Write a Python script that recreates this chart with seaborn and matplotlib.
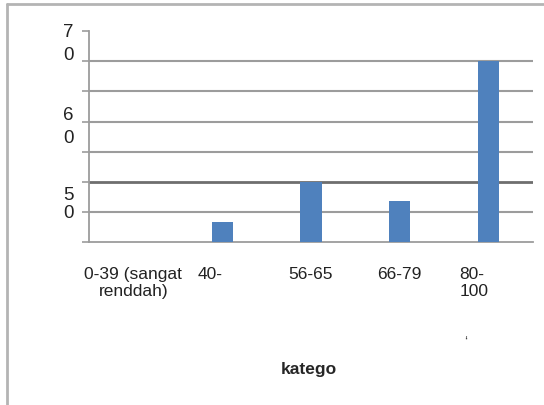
import matplotlib
matplotlib.use('Agg')
import matplotlib.pyplot as plt
import matplotlib.transforms as mtransforms
from matplotlib.lines import Line2D
import seaborn as sns
import pandas as pd

# data
kategori = ['0-39 (sangat\nrenddah)', '40-', '56-65', '66-79', '80-\n100']
nilai = [0, 6.6, 20, 13.6, 60]
y_ticks = [0, 10, 20, 30, 40, 50, 60, 70]
# broken y labels as they appear in the picture
y_label_text = ['7', '0', '6', '0', '5', '0']
y_label_pos = [69.9, 62.2, 42.5, 34.6, 15.7, 9.8]

sns.set_style('white')
plt.rcParams['font.family'] = ['Liberation Sans', 'DejaVu Sans']

df = pd.DataFrame({'kategori': kategori, 'nilai': nilai})

fig = plt.figure(figsize=(5.44, 4.06), dpi=100)
ax = fig.add_axes([89/544, 1 - 243.3/406, 444/544, 211.3/406])

sns.barplot(data=df, x='kategori', y='nilai', color='#4f81bd', width=0.24,
            saturation=1, linewidth=0, ax=ax, zorder=3)

ax.set_xlim(-0.5, 4.5)
ax.set_ylim(0, 70)
ax.set_yticks(y_ticks)
ax.set_yticklabels([])
ax.set_xlabel('')
ax.set_ylabel('')

# gridlines (no line at the top, darker line at 20)
for v in y_ticks[1:-1]:
    ax.axhline(v, color='#6e6e6e' if v == 20 else '#9c9c9c',
               lw=2.0 if v == 20 else 1.5, zorder=1)

for s in ['top', 'right']:
    ax.spines[s].set_visible(False)
for s in ['left', 'bottom']:
    ax.spines[s].set_color('#9c9c9c')
    ax.spines[s].set_linewidth(1.3)

ax.tick_params(axis='y', which='major', direction='out', length=5, width=1.2,
               color='#9c9c9c', left=True)
ax.tick_params(axis='x', length=0, pad=17, labelsize=12.5, labelcolor='#222222')

for i, lab in enumerate(ax.get_xticklabels()):
    if i in (1, 4):
        lab.set_ha('right')
        lab.set_multialignment('left')
    else:
        lab.set_multialignment('center')

trans = mtransforms.blended_transform_factory(ax.transAxes, ax.transData)
for t, y in zip(y_label_text, y_label_pos):
    ax.text(-0.047, y, t, transform=trans, ha='center', va='center',
            fontsize=13.5, color='#222222')

fig.text(309/544, 1 - 370/406, 'katego', ha='center', va='center',
         fontsize=12.5, fontweight='bold')
fig.text(466/544, 1 - 342/406, '\u2018', ha='center', va='center',
         fontsize=10, color='#444444')

# outer frame (top and left only)
fig.add_artist(Line2D([7/544, 7/544], [0, 1 - 5/406], transform=fig.transFigure,
                      color='#b4b4b4', lw=2))
fig.add_artist(Line2D([7/544, 1], [1 - 5/406, 1 - 5/406], transform=fig.transFigure,
                      color='#b4b4b4', lw=2))

fig.savefig('out.png', dpi=100)
